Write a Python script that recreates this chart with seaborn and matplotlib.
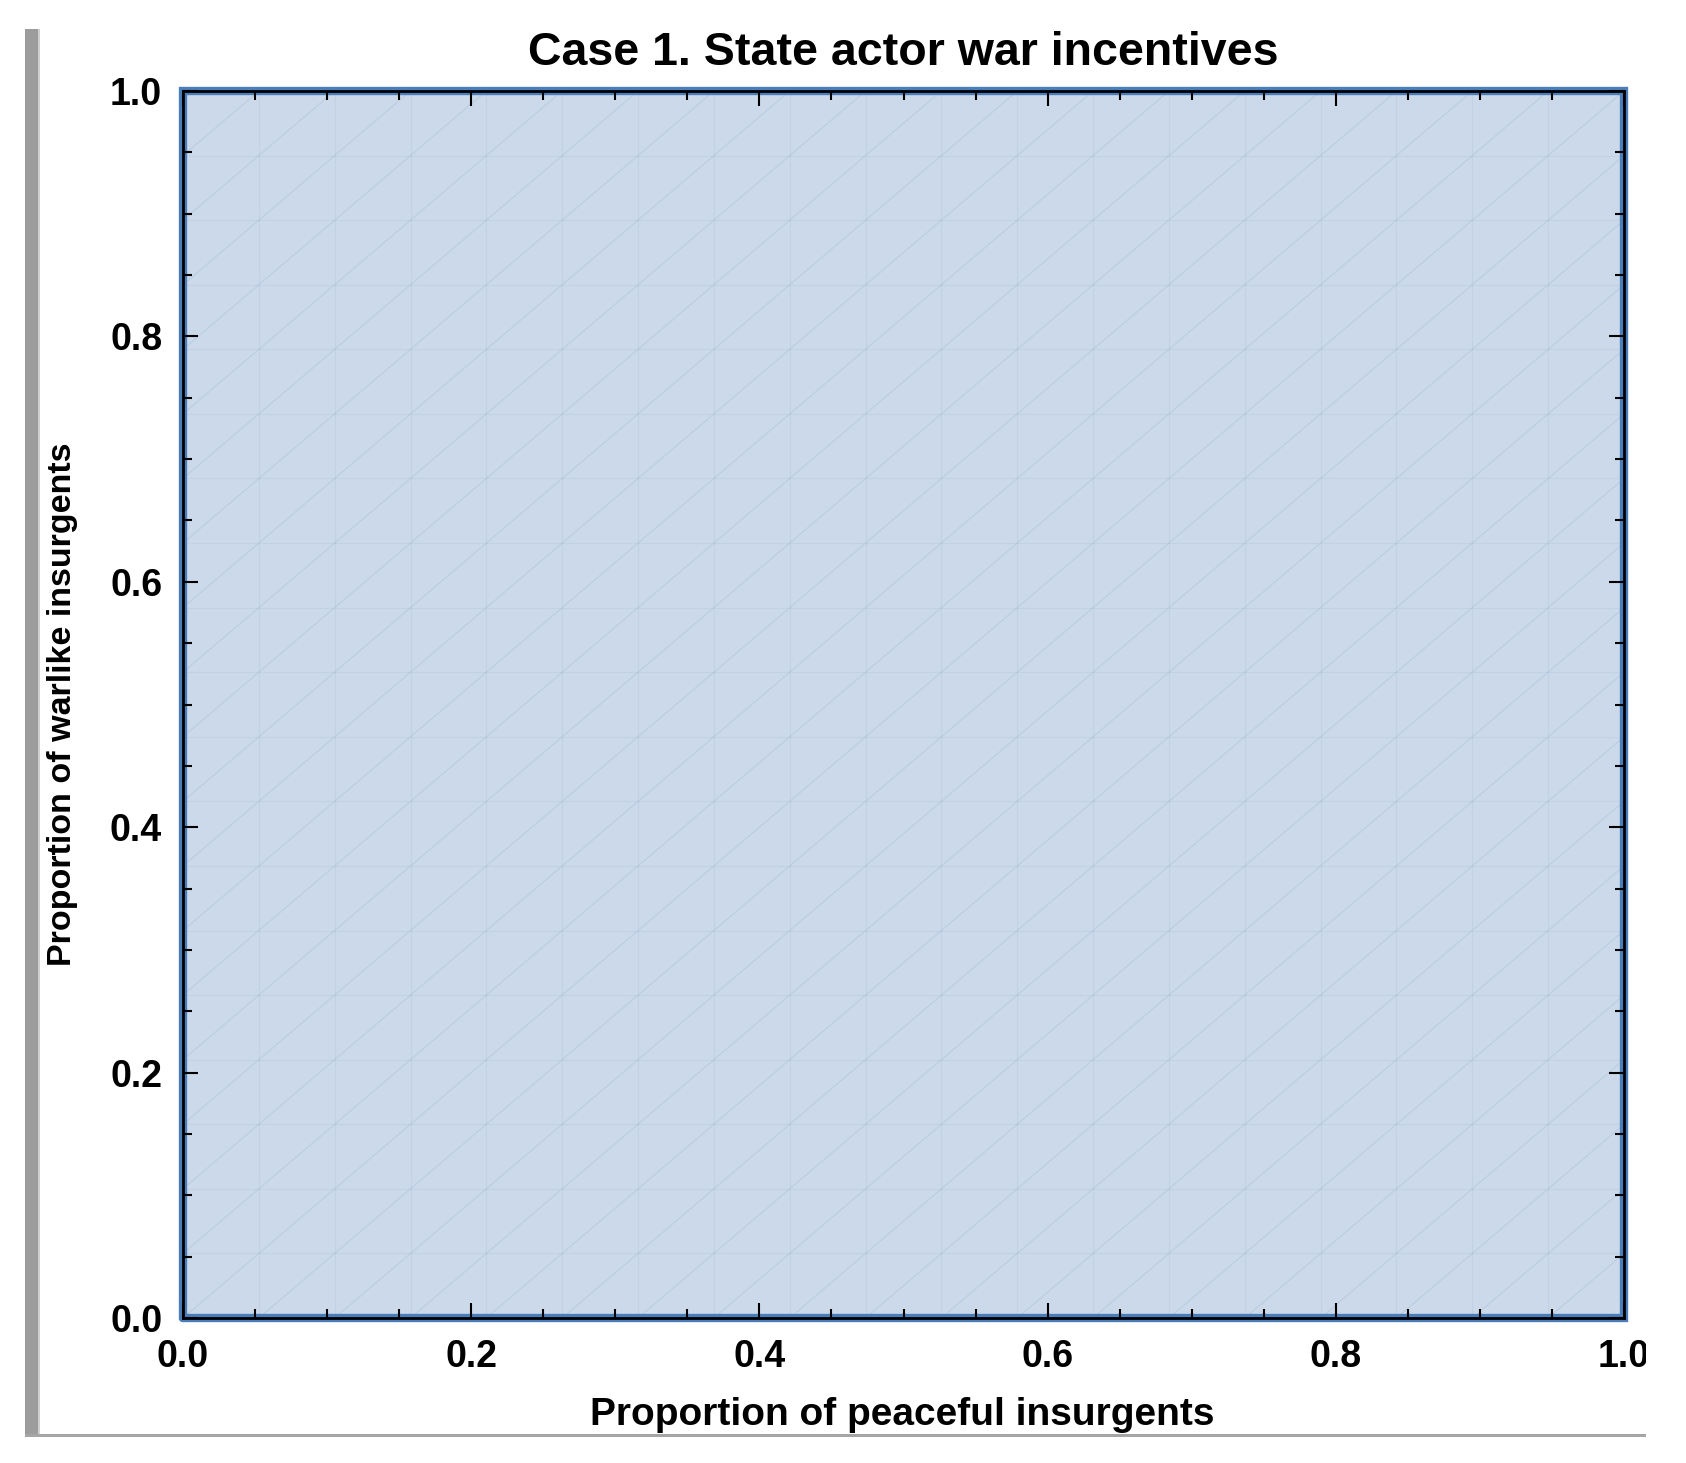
import numpy as np
import pandas as pd
import matplotlib
matplotlib.use('Agg')
import matplotlib.pyplot as plt
from matplotlib.patches import Rectangle
from matplotlib.ticker import MultipleLocator
import seaborn as sns

# region where the state actor has war incentives (whole unit square)
region_x = [0.0, 1.0, 1.0, 0.0, 0.0]
region_y = [0.0, 0.0, 1.0, 1.0, 0.0]
mesh_cells = 19

x_ticks = [0.0, 0.2, 0.4, 0.6, 0.8, 1.0]
y_ticks = [0.0, 0.2, 0.4, 0.6, 0.8, 1.0]
tick_labels = ['0.0', '0.2', '0.4', '0.6', '0.8', '1.0']

title = 'Case 1. State actor war incentives'
xlab = 'Proportion of peaceful insurgents'
ylab = 'Proportion of warlike insurgents'

sns.set_style('ticks')
plt.rcParams['font.family'] = ['Liberation Sans', 'DejaVu Sans']
plt.rcParams['text.color'] = 'black'
plt.rcParams['axes.labelcolor'] = 'black'
plt.rcParams['xtick.color'] = 'black'
plt.rcParams['ytick.color'] = 'black'

W, H = 1686, 1463
fig = plt.figure(figsize=(W / 100, H / 100), dpi=100)
ax = fig.add_axes([183 / W, 1 - 1318 / H, (1624 - 183) / W, (1318 - 91) / H])
ax.set_axisbelow(False)

fill_col = (203 / 255, 217 / 255, 234 / 255)
mesh_col = '#5E81B5'
ax.fill(region_x, region_y, color=fill_col, zorder=1, lw=0)

# mesh of the region plot
mesh = np.linspace(0, 1, mesh_cells + 1)
for m in mesh[1:-1]:
    ax.axvline(m, color=mesh_col, lw=0.8, alpha=0.08, zorder=1.5)
    ax.axhline(m, color=mesh_col, lw=0.8, alpha=0.08, zorder=1.5)
for k in range(-mesh_cells + 1, mesh_cells):
    c = k / mesh_cells
    x0 = max(0, -c)
    x1 = min(1, 1 - c)
    ax.plot([x0, x1], [x0 + c, x1 + c], color=mesh_col, lw=0.8, alpha=0.14, zorder=1.5)

boundary = pd.DataFrame({'x': region_x, 'y': region_y})
sns.lineplot(data=boundary, x='x', y='y', sort=False, estimator=None,
             color='#4A7EBB', lw=6, ax=ax, clip_on=False, zorder=2.2,
             solid_joinstyle='miter')

ax.set_xlim(0, 1)
ax.set_ylim(0, 1)
ax.set_xticks(x_ticks)
ax.set_xticklabels(tick_labels)
ax.set_yticks(y_ticks)
ax.set_yticklabels(tick_labels)
ax.xaxis.set_minor_locator(MultipleLocator(0.05))
ax.yaxis.set_minor_locator(MultipleLocator(0.05))
ax.tick_params(which='both', direction='in', top=True, right=True, width=1.5, color='black')
ax.tick_params(which='major', length=10.5, pad=15, labelsize=27)
ax.tick_params(which='minor', length=6.5)
for lab in ax.get_xticklabels() + ax.get_yticklabels():
    lab.set_fontweight('bold')
for s in ax.spines.values():
    s.set_linewidth(2)
    s.set_color('black')
    s.set_zorder(3)

ax.text(0.5, 1.031, title, transform=ax.transAxes, ha='center', va='center',
        fontsize=33.5, fontweight='bold')
ax.set_xlabel(xlab, fontsize=28, fontweight='bold')
ax.xaxis.set_label_coords(0.499, -0.079)
ax.xaxis.label.set_va('center')
ax.set_ylabel(ylab, fontsize=24.5, fontweight='bold')
ax.yaxis.set_label_coords(-0.0833, 0.5)
ax.yaxis.label.set_va('center')

# page edges of the original screenshot
fig.add_artist(Rectangle((25 / W, 1 - 1436 / H), 13 / W, (1436 - 29) / H,
                         transform=fig.transFigure, color='#9C9C9C', lw=0))
fig.add_artist(Rectangle((38 / W, 1 - 1436 / H), 2 / W, (1436 - 29) / H,
                         transform=fig.transFigure, color='#CFCFCF', lw=0))
fig.add_artist(Rectangle((25 / W, 1 - 1437 / H), (1646 - 25) / W, 3 / H,
                         transform=fig.transFigure, color='#A5A5A5', lw=0))
fig.add_artist(Rectangle((1646 / W, 0), 40 / W, 1, transform=fig.transFigure,
                         color='white', lw=0, zorder=5))

fig.savefig('out.png', dpi=100)
